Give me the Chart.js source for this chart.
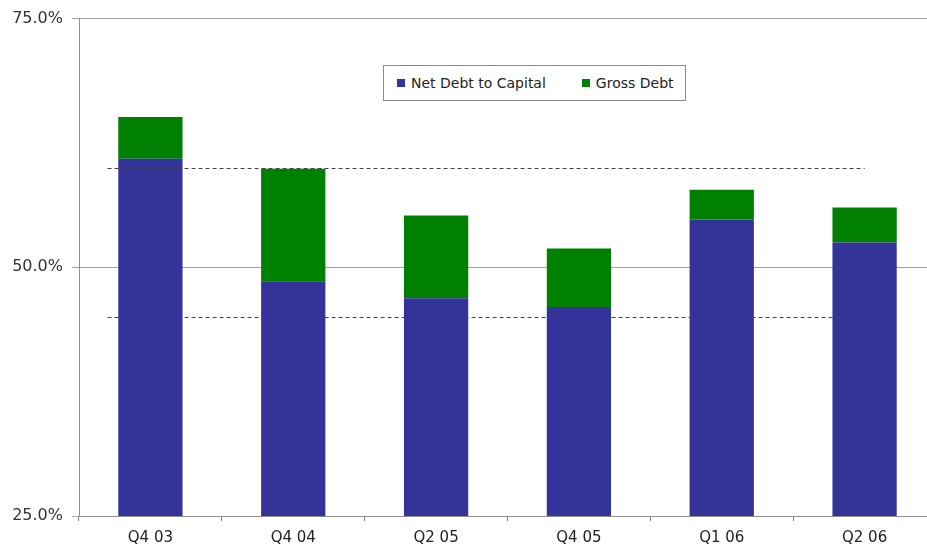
<!DOCTYPE html>
<html>
<head>
<meta charset="utf-8">
<script src="https://cdn.jsdelivr.net/npm/chart.js@4.4.1/dist/chart.umd.min.js"></script>
<style>
  html, body { margin: 0; padding: 0; background: #fff; overflow: hidden; }
  #wrap { position: relative; width: 927px; height: 550px; overflow: hidden; }
  #legend {
    position: absolute; left: 383px; top: 65px; width: 301px; height: 34px;
    border: 1px solid #8a8a8a; background: #fff;
    font-family: "DejaVu Sans", sans-serif; font-size: 14px; color: #222;
    display: flex; align-items: center;
  }
  #legend span.item { display: flex; align-items: center; }
  #legend i { display: inline-block; width: 8px; height: 8px; margin-right: 6px; }
</style>
</head>
<body>
<div id="wrap">
  <!-- plot runs a little past the right edge, as in the original -->
  <canvas id="chart" width="936" height="550"></canvas>
  <div id="legend">
    <span class="item" style="margin-left:13px"><i style="background:#333399"></i>Net Debt to Capital</span>
    <span class="item" style="margin-left:36px"><i style="background:#008000"></i>Gross Debt</span>
  </div>
</div>
<script>
// Net debt vs gross debt to capital, by quarter

const quarters = ["Q4 03", "Q4 04", "Q2 05", "Q4 05", "Q1 06", "Q2 06"];
const netDebt = [60.9, 48.6, 46.9, 46.0, 54.8, 52.5];
const grossDebt = [65.1, 59.9, 55.2, 51.9, 57.8, 56.0];
const yTicks = [25, 50, 75];
const refLevels = [60, 45];
const refSpan = [0.2, 5.5]; // start / end, in category units

const grossOnTop = grossDebt.map((g, i) => +(g - netDebt[i]).toFixed(1));

// dashed reference lines, drawn on top of the bars
const refLinesPlugin = {
  id: "refLines",
  afterDatasetsDraw(chart) {
    const { ctx, scales } = chart;
    const xs = scales.x;
    const ys = scales.y;
    const step = xs.width / quarters.length;
    const x0 = xs.left + refSpan[0] * step;
    const x1 = xs.left + refSpan[1] * step;
    ctx.save();
    ctx.strokeStyle = "#444";
    ctx.lineWidth = 1;
    ctx.setLineDash([4, 3]);
    refLevels.forEach((lvl) => {
      const y = Math.round(ys.getPixelForValue(lvl)) + 0.5;
      ctx.beginPath();
      ctx.moveTo(x0, y);
      ctx.lineTo(x1, y);
      ctx.stroke();
    });
    ctx.restore();
  },
};

new Chart(document.getElementById("chart"), {
  type: "bar",
  data: {
    labels: quarters,
    datasets: [
      {
        label: "Net Debt to Capital",
        data: netDebt,
        backgroundColor: "#333399",
        categoryPercentage: 1,
        barPercentage: 0.45,
      },
      {
        label: "Gross Debt",
        data: grossOnTop,
        backgroundColor: "#008000",
        categoryPercentage: 1,
        barPercentage: 0.45,
      },
    ],
  },
  plugins: [refLinesPlugin],
  options: {
    responsive: false,
    animation: false,
    layout: { padding: { top: 16, right: 0, left: 0, bottom: 0 } },
    plugins: { legend: { display: false }, tooltip: { enabled: false } },
    scales: {
      x: {
        stacked: true,
        grid: {
          offset: true,
          drawOnChartArea: false,
          drawTicks: true,
          tickLength: 5,
          color: "#808080",
        },
        border: { color: "#909090" },
        ticks: {
          color: "#222",
          padding: 8,
          font: { family: "DejaVu Sans", size: 15 },
        },
        afterFit: (s) => { s.height = 34; },
      },
      y: {
        stacked: true,
        min: yTicks[0],
        max: yTicks[yTicks.length - 1],
        afterBuildTicks: (s) => { s.ticks = yTicks.map((v) => ({ value: v })); },
        grid: { color: "#a0a0a0", tickLength: 7 },
        border: { color: "#909090" },
        ticks: {
          color: "#333",
          padding: 9,
          font: { family: "DejaVu Sans", size: 16 },
          callback: (v) => v.toFixed(1) + "%",
        },
        afterFit: (s) => { s.width = 79; },
      },
    },
  },
});
</script>
</body>
</html>
